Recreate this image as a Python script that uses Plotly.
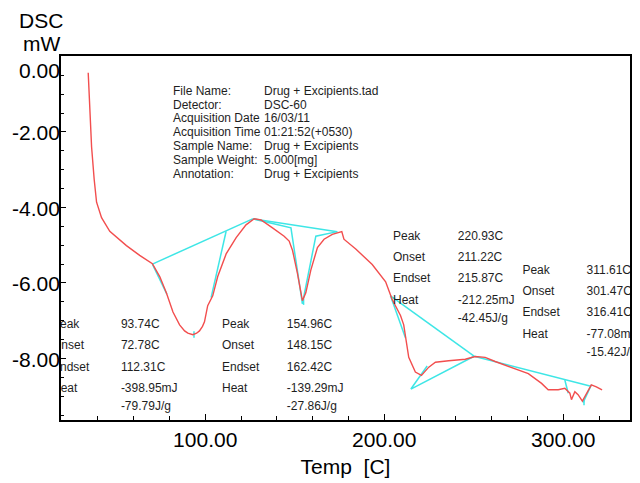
import plotly.graph_objects as go

FONT = "Liberation Sans, Arial, sans-serif"

# ---- DSC curve (Temp [C], DSC [mW]) ----
temp = [34.65, 35.98, 36.54, 37.99, 39.32, 42.1, 46.7, 56.0, 63.4, 70.5, 74.6, 78.3,
        82.0, 85.7, 88.5, 90.3, 93.1, 95.2, 96.8, 98.5, 99.6, 101.4, 104.2, 107.0,
        111.7, 117.3, 122.8, 127.4, 131.2, 137.6, 144.1, 146.9, 148.8, 151.5, 154.3,
        156.2, 159.0, 162.7, 166.4, 171.0, 174.8, 176.3, 177.5, 184.1, 193.3, 200.8,
        204.4, 209.1, 210.9, 211.9, 213.7, 217.4, 220.8, 224.9, 228.6, 236.0, 245.3,
        250.8, 256.4, 262.0, 271.2, 280.5, 287.9, 291.6, 297.2, 300.9, 303.7, 304.6,
        306.5, 308.3, 310.7, 313.0, 315.7, 318.5, 321.7]
dsc = [-0.43, -1.72, -2.40, -3.26, -3.86, -4.27, -4.63, -5.01, -5.27, -5.49, -5.83, -6.26,
       -6.77, -7.11, -7.27, -7.33, -7.37, -7.33, -7.27, -7.15, -7.03, -6.60, -6.34, -5.83,
       -5.23, -4.80, -4.46, -4.30, -4.33, -4.54, -4.76, -4.89, -5.14, -5.74, -6.47,
       -6.26, -5.66, -5.06, -4.84, -4.71, -4.67, -4.64, -4.84, -5.10, -5.51, -5.97,
       -6.43, -6.86, -7.11, -7.46, -7.97, -8.36, -8.45, -8.23, -8.10, -8.06, -8.02,
       -7.95, -7.97, -8.08, -8.23, -8.40, -8.66, -8.83, -8.83, -8.79, -8.92, -9.09,
       -8.88, -8.96, -9.13, -8.92, -8.70, -8.75, -8.83]

# ---- baseline / tangent construction lines (None separates segments) ----
cyan_t = [70.5, 126.5, None, 70.5, 78.6, None, 111.7, 103.3, None, 93.74, 93.74, None,
          126.5, 173.8, None, 126.5, 147.9, 154.3, None, 154.3, 161.8, 173.8, None,
          154.96, 154.96, None,
          203.5, 211.9, None, 203.5, 250.2, None, 250.2, 214.9, 224.0, None,
          250.2, 314.9, None, 300.9, 302.8, None, 311.1, 315.7, None, 311.61, 311.61]
cyan_v = [-5.50, -4.30, None, -5.50, -6.30, None, -4.63, -6.39, None, -7.28, -7.45, None,
          -4.30, -4.64, None, -4.30, -4.54, -6.55, None, -6.55, -4.76, -4.64, None,
          -6.42, -6.58, None,
          -6.34, -7.46, None, -6.34, -7.94, None, -7.94, -8.81, -8.20, None,
          -7.94, -8.73, None, -8.57, -8.92, None, -9.17, -8.70, None, -9.08, -9.24]

# ---- peak analysis results ----
peak_t = [93.74, 154.96, 220.93, 311.61]
onset_t = [72.78, 148.15, 211.22, 301.47]
endset_t = [112.31, 162.42, 215.87, 316.41]
heat_mj = [-398.95, -139.29, -212.25, -77.08]
heat_jg = [-79.79, -27.86, -42.45, -15.42]
row_labels = ["Peak", "Onset", "Endset", "Heat", ""]

# ---- file info ----
info_keys = ["File Name:", "Detector:", "Acquisition Date", "Acquisition Time",
             "Sample Name:", "Sample Weight:", "Annotation:"]
info_vals = ["Drug + Excipients.tad", "DSC-60", "16/03/11", "01:21:52(+0530)",
             "Drug + Excipients", "5.000[mg]", "Drug + Excipients"]

# ---- axis ticks ----
x_ticks = [100, 200, 300]
x_ticklabels = ["100.00", "200.00", "300.00"]
y_ticks = [0, -2, -4, -6, -8]
y_ticklabels = ["0.00", "-2.00", "-4.00", "-6.00", "-8.00"]

RED = "#f24e4e"
CYAN = "#3ee6e6"
TXT = "#1e1e1e"

fig = go.Figure()
fig.add_trace(go.Scatter(x=cyan_t, y=cyan_v, mode="lines",
                         line=dict(color=CYAN, width=1.5), hoverinfo="skip"))
fig.add_trace(go.Scatter(x=temp, y=dsc, mode="lines",
                         line=dict(color=RED, width=1.4)))

# result blocks: (label column x, value column x, first row y)
block_pos = [(14.4, 52.9, -7.11), (109.4, 145.6, -7.11),
             (204.9, 241.1, -4.77), (277.2, 313.0, -5.67)]
ROW = 0.565
LAST = 0.48
for i, (lx, vx, y0) in enumerate(block_pos):
    vals = [f"{peak_t[i]:.2f}C", f"{onset_t[i]:.2f}C", f"{endset_t[i]:.2f}C",
            f"{heat_mj[i]:.2f}mJ", f"{heat_jg[i]:.2f}J/g"]
    ys = [y0 - ROW * k for k in range(4)] + [y0 - ROW * 3 - LAST]
    fig.add_trace(go.Scatter(x=[lx] * 4, y=ys[:4], mode="text", text=row_labels[:4],
                             textposition="middle right", cliponaxis=True,
                             marker=dict(size=1),
                             textfont=dict(family=FONT, size=12, color=TXT)))
    fig.add_trace(go.Scatter(x=[vx] * 5, y=ys, mode="text", text=vals,
                             textposition="middle right", cliponaxis=True,
                             marker=dict(size=1),
                             textfont=dict(family=FONT, size=12, color=TXT)))

ann = []
for k, (key, val) in enumerate(zip(info_keys, info_vals)):
    y = -0.91 - 0.365 * k
    ann.append(dict(x=81.0, y=y, xref="x", yref="y", text=key, showarrow=False,
                    xanchor="left", yanchor="middle",
                    font=dict(family=FONT, size=12, color=TXT)))
    ann.append(dict(x=132.0, y=y, xref="x", yref="y", text=val, showarrow=False,
                    xanchor="left", yanchor="middle",
                    font=dict(family=FONT, size=12, color=TXT)))
for v, lab in zip(y_ticks, y_ticklabels):
    ann.append(dict(x=0, y=v, xref="paper", yref="y", text=lab, showarrow=False,
                    xanchor="right", yanchor="middle", xshift=1,
                    yshift=-14 if v == 0 else -1,
                    font=dict(family=FONT, size=21, color="black")))
# axis title "DSC / mW" at the top-left, placed in pixels relative to the plot area
for txt, px, py in [("DSC", 41, 19), ("mW", 41, 43)]:
    ann.append(dict(xref="paper", yref="paper", x=(px - 61) / 571, y=1 - (py - 56) / 375,
                    text=txt, showarrow=False, xanchor="center", yanchor="middle",
                    font=dict(family=FONT, size=21, color="black")))

fig.update_layout(
    width=640, height=483,
    margin=dict(l=61, r=8, t=56, b=52),
    paper_bgcolor="white", plot_bgcolor="white",
    showlegend=False,
    annotations=ann,
    xaxis=dict(range=[19.45, 337.3], showgrid=False, zeroline=False,
               showline=True, linecolor="black", linewidth=1.5, mirror=True,
               tickvals=x_ticks, ticktext=x_ticklabels, ticks="inside", ticklen=6,
               tickcolor="black", tickwidth=1,
               minor=dict(dtick=20, tick0=0, ticks="inside", ticklen=4,
                          tickcolor="black", tickwidth=1),
               tickfont=dict(family=FONT, size=21, color="black"),
               title=dict(text="Temp\u00a0 [C]", standoff=9,
                          font=dict(family=FONT, size=21, color="black"))),
    yaxis=dict(range=[-9.63, 0.013], showgrid=False, zeroline=False,
               showline=True, linecolor="black", linewidth=1.5, mirror=True,
               tickvals=y_ticks, showticklabels=False, ticks="inside", ticklen=5,
               tickcolor="black", tickwidth=1,
               minor=dict(dtick=0.5, tick0=0, ticks="inside", ticklen=3,
                          tickcolor="black", tickwidth=1)),
)

fig.write_html("out.html")
